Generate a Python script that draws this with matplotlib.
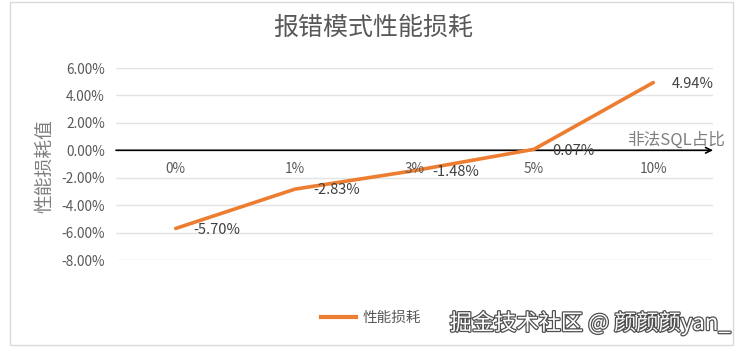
import matplotlib.pyplot as plt
import matplotlib.patheffects as pe
from matplotlib.patches import Rectangle
from matplotlib.lines import Line2D

plt.rcParams['font.family'] = ['Noto Sans CJK SC', 'DejaVu Sans']

# data
cats = ['0%', '1%', '3%', '5%', '10%']
loss = [-5.70, -2.83, -1.48, 0.07, 4.94]
yticks = [-8, -6, -4, -2, 0, 2, 4, 6]

orange = '#ED7D31'
grey = '#595959'

fig = plt.figure(figsize=(7.44, 3.53), dpi=100)
fig.patch.set_facecolor('white')

# chart border
fig.patches.append(Rectangle((10/744, 1-345/353), 723/744, 343/353, transform=fig.transFigure,
                             fill=False, edgecolor='#d9d9d9', linewidth=1))

ax = fig.add_axes([116/744, 1-260/353, 597/744, 192/353])
x = list(range(len(cats)))
ax.plot(x, loss, color=orange, linewidth=2.6, solid_capstyle='round', label='性能损耗', zorder=3)

ax.set_xlim(-0.5, len(cats)-0.5)
ax.set_ylim(-8, 6)
ax.set_yticks(yticks)
ax.set_yticklabels([f'{v:.2f}%' for v in yticks])
ax.set_xticks([])
ax.tick_params(axis='y', length=0, pad=8, labelsize=9.8, labelcolor=grey)
for s in ax.spines.values():
    s.set_visible(False)
ax.yaxis.grid(True, color='#e3e3e3', linewidth=1)
ax.set_axisbelow(True)

# x axis with arrow
ax.annotate('', xy=(len(cats)-0.5, 0), xytext=(-0.5, 0),
            arrowprops=dict(arrowstyle='->', color='black', lw=1.2, shrinkA=0, shrinkB=0),
            annotation_clip=False, zorder=2)

# category labels under the axis
for i, c in enumerate(cats):
    ax.text(i, -1.35, c, ha='center', va='center', fontsize=9.8, color=grey)

# data labels
for i, v in enumerate(loss):
    ax.annotate(f'{v:.2f}%', (i, v), xytext=(13, -1), textcoords='offset points',
                ha='left', va='center', fontsize=10.5, color='#404040', zorder=4)

fig.text(373/744, 1-28/353, '报错模式性能损耗', ha='center', va='center', fontsize=18, color=grey)
fig.text(45/744, 1-166/353, '性能损耗值', rotation=90, ha='center', va='center', fontsize=13.5, color='#7f7f7f')
fig.text(725/744, 1-140/353, '非法SQL占比', ha='right', va='center', fontsize=12, color='#7f7f7f')

fig.legend(handles=[Line2D([], [], color=orange, linewidth=3)], labels=['性能损耗'],
           loc='center', bbox_to_anchor=(371/744, 1-318/353), frameon=False,
           fontsize=10.5, handlelength=2.4, handletextpad=0.5, labelcolor=grey)

fig.text(731/744, 1-323/353, '掘金技术社区 @ 颜颜颜yan_', ha='right', va='center', fontsize=16,
         color='white', path_effects=[pe.withStroke(linewidth=1.8, foreground='#505050')])

fig.savefig('out.png', dpi=100)
